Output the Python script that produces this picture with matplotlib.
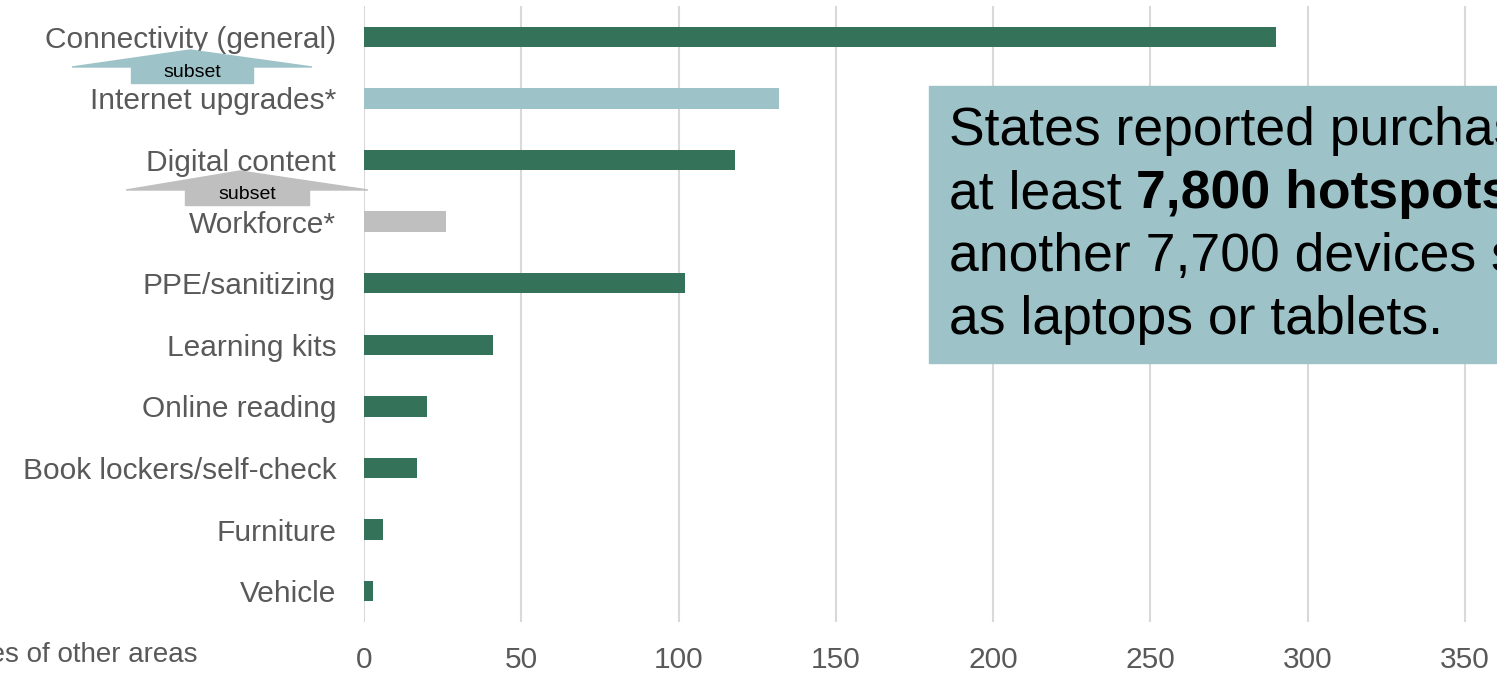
import numpy as np
import matplotlib
matplotlib.use("Agg")
import matplotlib.pyplot as plt
from matplotlib.patches import Polygon, Rectangle

# data
categories = ["Connectivity (general)", "Internet upgrades*", "Digital content",
              "Workforce*", "PPE/sanitizing", "Learning kits", "Online reading",
              "Book lockers/self-check", "Furniture", "Vehicle"]
values = [290, 132, 118, 26, 102, 41, 20, 17, 6, 3]
bar_colors = ["#34725A", "#9DC3C8", "#34725A", "#BFBFBF", "#34725A",
              "#34725A", "#34725A", "#34725A", "#34725A", "#34725A"]
x_ticks = [0, 50, 100, 150, 200, 250, 300, 350, 400]

W, H = 1497, 674
label_font = ["Liberation Sans", "DejaVu Sans"]
box_font = ["Liberation Sans", "DejaVu Sans"]
grey_txt = "#595959"

fig = plt.figure(figsize=(W / 100, H / 100), dpi=100)


def px(x, y):
    # pixel (from top-left) -> figure fraction
    return (x / W, 1 - y / H)


ax = fig.add_axes([364 / W, 1 - 622 / H, 1258 / W, 616 / H])
ypos = np.arange(len(categories))
ax.barh(ypos, values, height=0.33, color=bar_colors, zorder=3)
ax.set_ylim(len(categories) - 0.5, -0.5)
ax.set_xlim(0, 400)
ax.set_xticks(x_ticks)
ax.set_xticklabels([str(t) for t in x_ticks])
ax.set_yticks(ypos)
ax.set_yticklabels(categories)
for lab in ax.get_yticklabels():
    lab.set_fontfamily(label_font)
    lab.set_fontsize(21.5)
    lab.set_color(grey_txt)
for lab in ax.get_xticklabels():
    lab.set_fontfamily(label_font)
    lab.set_fontsize(21.5)
    lab.set_color(grey_txt)
ax.tick_params(axis="both", length=0)
ax.tick_params(axis="y", pad=20)
ax.tick_params(axis="x", pad=17)
ax.grid(axis="x", color="#D9D9D9", linewidth=1.5, zorder=0)
for s in ax.spines.values():
    s.set_visible(False)

fig.text(197 / W, 1 - 655 / H, "Number of purchases of other areas", ha="right", va="center",
         fontsize=20, color=grey_txt, family=label_font)

# "subset" arrows between category labels
def subset_arrow(head_l, head_r, head_y, tip, body_l, body_r, body_b, color):
    head = Polygon([px(head_l, head_y), px(*tip), px(head_r, head_y)],
                   closed=True, transform=fig.transFigure, color=color, zorder=5)
    fig.patches.append(head)
    x0, y0 = px(body_l, body_b)
    x1, y1 = px(body_r, head_y)
    body = Rectangle((x0, y0), x1 - x0, y1 - y0, transform=fig.transFigure,
                     color=color, zorder=5)
    fig.patches.append(body)
    fig.text((body_l + body_r) / 2 / W, 1 - (head_y + body_b) / 2 / H + 0.004, "subset",
             ha="center", va="center", fontsize=14, color="black", family=box_font, zorder=6)


subset_arrow(72, 312, 67, (190, 50), 131, 253, 83, "#9DC3C8")
subset_arrow(126, 368, 190, (240, 171), 185, 309, 205, "#BFBFBF")

# callout box
bx0, by0 = px(929, 363)
bx1, by1 = px(1600, 86)
fig.patches.append(Rectangle((bx0, by0), bx1 - bx0, by1 - by0, transform=fig.transFigure,
                             color="#9DC3C8", zorder=7))

line_y = [131, 194, 257, 320]
fs = 38.5
tx = 949 / W
fig.text(tx, 1 - line_y[0] / H, "States reported purchasing", fontsize=fs, va="center",
         family=box_font, color="black", zorder=8)
t1 = fig.text(tx, 1 - line_y[1] / H, "at least ", fontsize=fs, va="center",
              family=box_font, color="black", zorder=8)
fig.canvas.draw()
bb = t1.get_window_extent(fig.canvas.get_renderer())
fig.text(bb.x1 / W, 1 - line_y[1] / H, "7,800 hotspots and", fontsize=fs, va="center",
         family=box_font, weight="bold", color="black", zorder=8)
fig.text(tx, 1 - line_y[2] / H, "another 7,700 devices such", fontsize=fs, va="center",
         family=box_font, color="black", zorder=8)
fig.text(tx, 1 - line_y[3] / H, "as laptops or tablets.", fontsize=fs, va="center",
         family=box_font, color="black", zorder=8)

fig.savefig("out.png", dpi=100)
